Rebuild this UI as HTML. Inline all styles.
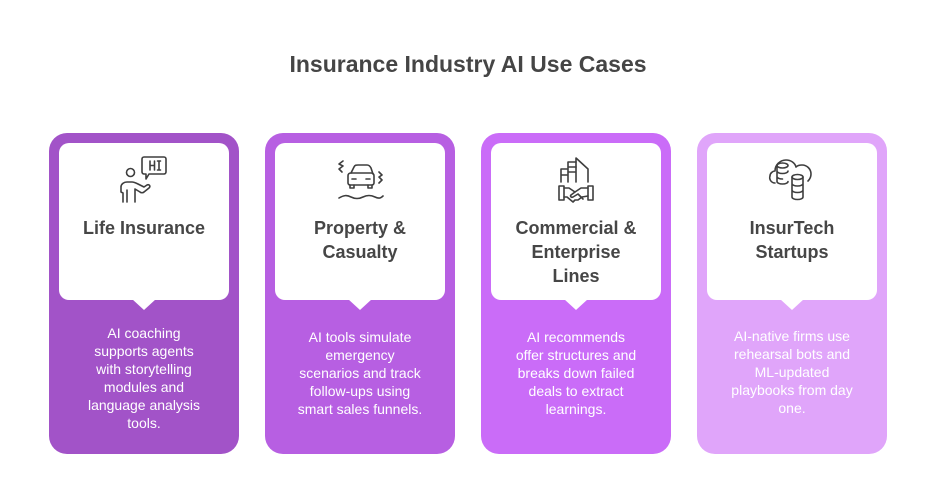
<!DOCTYPE html>
<html><head><meta charset="utf-8"><style>
html,body{margin:0;padding:0;background:#fff;}
body{width:936px;height:491px;position:relative;overflow:hidden;font-family:"Liberation Sans",Arial,sans-serif;}
.title{position:absolute;left:0;width:936px;top:50px;text-align:center;font-weight:bold;font-size:23px;color:#454545;line-height:28px;}
.card{position:absolute;top:133px;width:190px;height:321px;border-radius:18px;}
.inner{position:absolute;left:10px;top:10px;width:170px;height:157px;background:#fff;border-radius:10px;}
.notch{position:absolute;left:83px;top:166px;width:0;height:0;border-left:12px solid transparent;border-right:12px solid transparent;border-top:11px solid #fff;}
.h{position:absolute;left:0;width:190px;top:83px;text-align:center;font-weight:bold;font-size:18px;line-height:24px;color:#464646;white-space:nowrap;}
.b{position:absolute;left:0;width:190px;top:195px;text-align:center;font-size:14px;line-height:18px;color:#fff;white-space:nowrap;}
svg.ic{position:absolute;left:0;top:0;}
</style></head><body>
<div class="title">Insurance Industry AI Use Cases</div>

<div class="card" style="left:49px;background:#A253C8;">
  <div class="inner"></div><div class="notch"></div>
  <svg class="ic" width="190" height="100" viewBox="49 133 190 100" fill="none" stroke="#3e3e3e" stroke-width="1.6" stroke-linecap="round" stroke-linejoin="round">
    <circle cx="130.5" cy="172.5" r="4"/>
    <path d="M144 157h20a2 2 0 0 1 2 2v13a2 2 0 0 1-2 2h-15l-3 5v-5h-2a2 2 0 0 1-2-2v-13a2 2 0 0 1 2-2z"/>
    <path d="M150 161v9M150 165.5h4.5M154.5 161v9M159 161v9M157.5 161h3M157.5 170h3"/>
    <path d="M123 202v-9l-2-1v-5c0-3 3-5 6-5h5c2 0 4 1 6 2l6 3 3-2c2-1 4 1 2 3l-5 4c-1 1-3 1-4 0l-5-3v13"/>
    <path d="M127 190v12"/>
  </svg>
  <div class="h" style="top:83px;">Life Insurance</div>
  <div class="b" style="top:191px;">AI coaching<br>supports agents<br>with storytelling<br>modules and<br>language analysis<br>tools.</div>
</div>

<div class="card" style="left:265px;background:#B75FE2;">
  <div class="inner"></div><div class="notch"></div>
  <svg class="ic" width="190" height="100" viewBox="265 133 190 100" fill="none" stroke="#3e3e3e" stroke-width="1.6" stroke-linecap="round" stroke-linejoin="round">
    <path d="M343 161l-4 3 4 2-4 3 3 3"/>
    <path d="M379 172l3 3-3 2 3 3-3 3"/>
    <path d="M351 173l3-6c1-2 2-2 4-2h9c2 0 3 1 4 3l2 6"/>
    <path d="M348 176c0-2 1-3 3-3h20c2 0 3 1 3 3v7c0 1-1 2-2 2h-22c-1 0-2-1-2-2z"/>
    <path d="M350 185v3h4v-3M368 185v3h4v-3"/>
    <path d="M352 179h4M366 179h4"/>
    <path d="M339 198c5-3 8-3 12-1s8 2 12 0 8-2 12 0 6 1 8-1"/>
  </svg>
  <div class="h" style="top:83px;">Property &amp;<br>Casualty</div>
  <div class="b" style="top:195px;">AI tools simulate<br>emergency<br>scenarios and track<br>follow-ups using<br>smart sales funnels.</div>
</div>

<div class="card" style="left:481px;background:#CA6CF8;">
  <div class="inner"></div><div class="notch"></div>
  <svg class="ic" width="190" height="100" viewBox="481 133 190 100" fill="none" stroke="#3e3e3e" stroke-width="1.6" stroke-linecap="round" stroke-linejoin="round">
    <path d="M576 182v-24l12 11v13"/>
    <path d="M576 162h-8v20M568 167h8M568 172h7"/>
    <path d="M561 169v13M561 169h6M561 175h6"/>
    <path d="M559 186h5v14h-5z"/>
    <path d="M588 186h5v14h-5z"/>
    <path d="M564 188h5l6 4 6-4h7"/>
    <path d="M564 197h3l6 5 2-2 3 0 4-3 6-1"/>
    <path d="M575 192l-4 3c-1 1 0 3 2 2l5-3 5 5"/>
  </svg>
  <div class="h" style="top:83px;">Commercial &amp;<br>Enterprise<br>Lines</div>
  <div class="b" style="top:195px;">AI recommends<br>offer structures and<br>breaks down failed<br>deals to extract<br>learnings.</div>
</div>

<div class="card" style="left:697px;background:#E0A5FA;">
  <div class="inner"></div><div class="notch"></div>
  <svg class="ic" width="190" height="100" viewBox="697 133 190 100" fill="none" stroke="#3e3e3e" stroke-width="1.6" stroke-linecap="round" stroke-linejoin="round">
    <path d="M775 183c-4 0-6-4-5-7 0-3 3-5 5-5 0-6 5-11 11-11 5 0 9 3 10 7 2-2 4-2 6-2 5 0 9 4 9 9 0 3-1 5-3 7"/>
    <ellipse cx="782.5" cy="165.5" rx="5.5" ry="2.5"/>
    <path d="M777 165.5v16c0 1.5 2.5 2.5 5.5 2.5s5.5-1 5.5-2.5M777 171c0 1.5 2.5 2.5 5.5 2.5s5.5-1 5.5-2.5M777 176.5c0 1.5 2.5 2.5 5.5 2.5"/>
    <ellipse cx="797.5" cy="177" rx="5.5" ry="2.5"/>
    <path d="M792 177v20c0 1.5 2.5 2.5 5.5 2.5s5.5-1 5.5-2.5v-20M792 183.5c0 1.5 2.5 2.5 5.5 2.5s5.5-1 5.5-2.5M792 190c0 1.5 2.5 2.5 5.5 2.5s5.5-1 5.5-2.5"/>
  </svg>
  <div class="h" style="top:83px;">InsurTech<br>Startups</div>
  <div class="b" style="top:194px;">AI-native firms use<br>rehearsal bots and<br>ML-updated<br>playbooks from day<br>one.</div>
</div>
</body></html>
